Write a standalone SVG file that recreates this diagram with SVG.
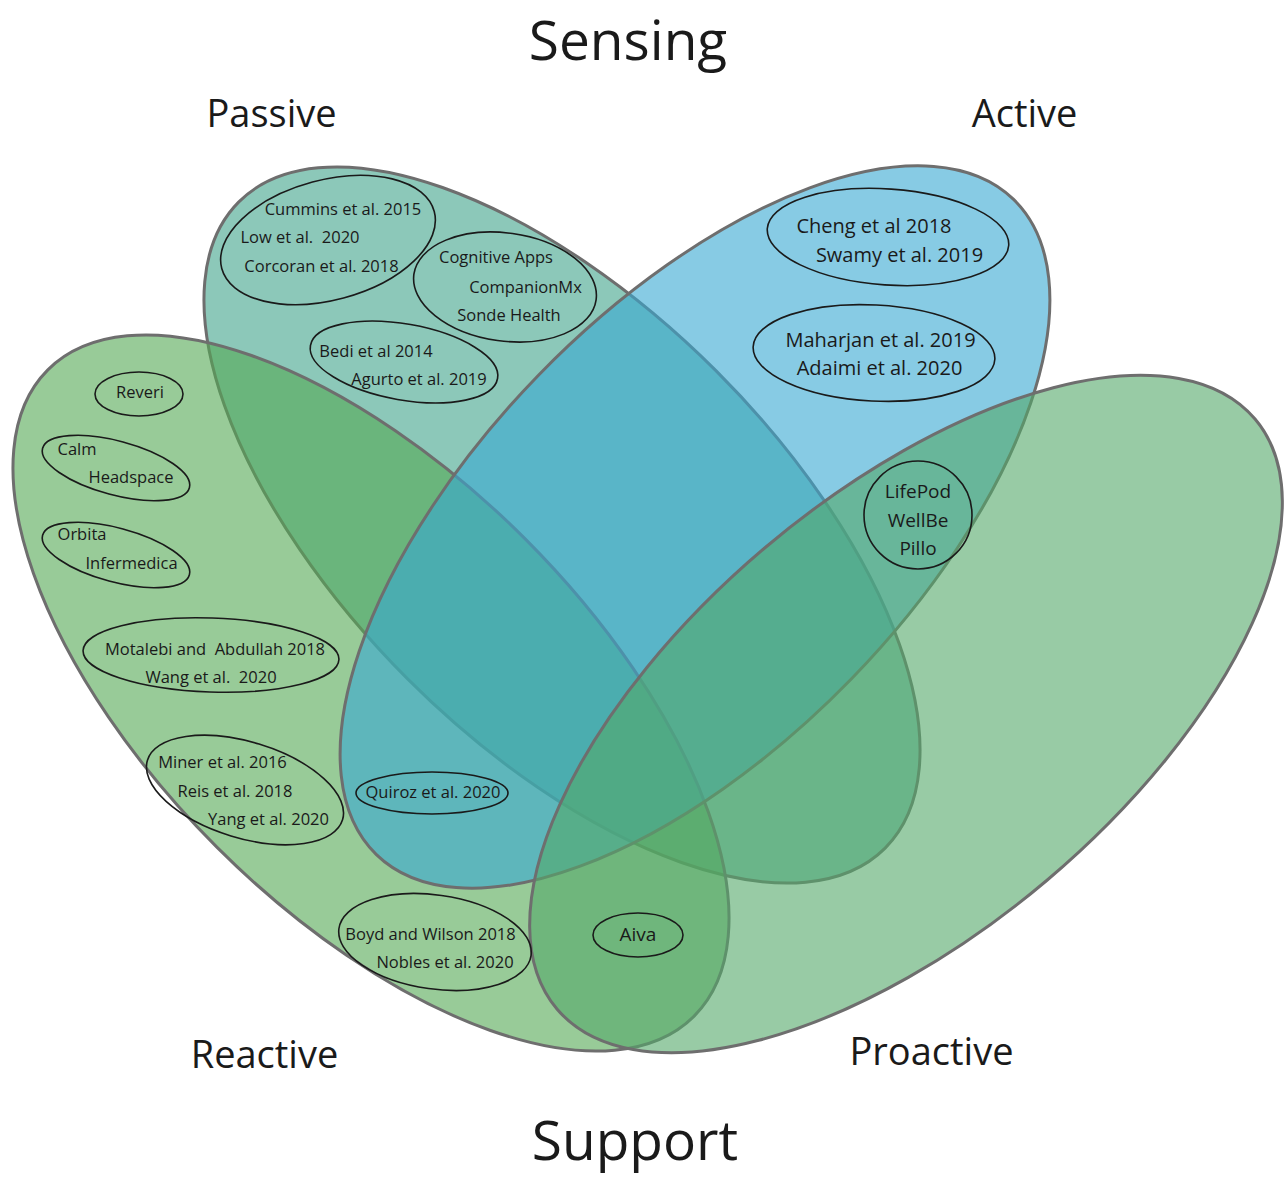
<svg xmlns="http://www.w3.org/2000/svg" width="1285" height="1179" viewBox="0 0 1285 1179">
  <style>
    .set { fill-opacity: 0.6; stroke: #6e6e6e; stroke-width: 3; }
    .grp { fill: none; stroke: #1a1a1a; stroke-width: 1.6; }
    .t { font-family: "Open Sans", "Noto Sans", "Liberation Sans", sans-serif; fill: #1a1a1a; text-anchor: middle; }
    .s { font-size: 16.5px; }
    .m { font-size: 20px; }
    .l { font-size: 19px; }
    .h { font-size: 38px; }
    .x { font-size: 55px; }
  </style>
  <rect width="1285" height="1179" fill="#ffffff"/>

  <!-- four overlapping sets -->
  <g id="sets">
    <ellipse id="set-passive" class="set" fill="#3fa38a" cx="562" cy="525" rx="457" ry="218" transform="rotate(45 562 525)"/>
    <ellipse id="set-reactive" class="set" fill="#53a853" cx="371" cy="693" rx="457" ry="218" transform="rotate(45 371 693)"/>
    <ellipse id="set-active" class="set" fill="#37a8d2" cx="695" cy="527" rx="457" ry="218" transform="rotate(-45.8 695 527)"/>
    <ellipse id="set-proactive" class="set" fill="#53a869" cx="906" cy="714" rx="457" ry="218" transform="rotate(-40.2 906 714)"/>
  </g>

  <!-- axis titles -->
  <g id="titles">
    <text class="t x" x="628" y="60">Sensing</text>
    <text class="t h" x="271.5" y="127">Passive</text>
    <text class="t h" x="1024.5" y="127">Active</text>
    <text class="t h" x="264.5" y="1068">Reactive</text>
    <text class="t h" x="931.5" y="1065">Proactive</text>
    <text class="t x" x="635" y="1160">Support</text>
  </g>

  <!-- grouped entries -->
  <g id="node-cummins">
    <ellipse class="grp" cx="328" cy="240" rx="110" ry="60" transform="rotate(-15 328 240)"/>
    <text class="t s" x="343" y="215">Cummins et al. 2015</text>
    <text class="t s" x="300" y="243" xml:space="preserve">Low et al.  2020</text>
    <text class="t s" x="321.5" y="272">Corcoran et al. 2018</text>
  </g>
  <g id="node-cognitive">
    <ellipse class="grp" cx="505" cy="287" rx="92" ry="54" transform="rotate(8 505 287)"/>
    <text class="t s" x="496" y="263">Cognitive Apps</text>
    <text class="t s" x="525.5" y="293">CompanionMx</text>
    <text class="t s" x="509" y="321">Sonde Health</text>
  </g>
  <g id="node-bedi">
    <ellipse class="grp" cx="404" cy="362" rx="95" ry="38" transform="rotate(10 404 362)"/>
    <text class="t s" x="376" y="357">Bedi et al 2014</text>
    <text class="t s" x="419" y="385">Agurto et al. 2019</text>
  </g>
  <g id="node-cheng">
    <ellipse class="grp" cx="888" cy="237" rx="121" ry="48" transform="rotate(4 888 237)"/>
    <text class="t m" x="874" y="233">Cheng et al 2018</text>
    <text class="t m" x="899.5" y="262">Swamy et al. 2019</text>
  </g>
  <g id="node-maharjan">
    <ellipse class="grp" cx="874" cy="353" rx="121" ry="48" transform="rotate(3 874 353)"/>
    <text class="t m" x="880.5" y="347">Maharjan et al. 2019</text>
    <text class="t m" x="879.5" y="375">Adaimi et al. 2020</text>
  </g>
  <g id="node-lifepod">
    <circle class="grp" cx="918" cy="515" r="54"/>
    <text class="t l" x="918" y="498">LifePod</text>
    <text class="t l" x="918" y="527">WellBe</text>
    <text class="t l" x="918" y="555">Pillo</text>
  </g>
  <g id="node-reveri">
    <ellipse class="grp" cx="139" cy="394" rx="44" ry="22"/>
    <text class="t s" x="140" y="398">Reveri</text>
  </g>
  <g id="node-calm">
    <ellipse class="grp" cx="116" cy="468" rx="76" ry="27" transform="rotate(15 116 468)"/>
    <text class="t s" x="77" y="455">Calm</text>
    <text class="t s" x="131" y="483">Headspace</text>
  </g>
  <g id="node-orbita">
    <ellipse class="grp" cx="116" cy="555" rx="76" ry="27" transform="rotate(15 116 555)"/>
    <text class="t s" x="82" y="540">Orbita</text>
    <text class="t s" x="131.5" y="569">Infermedica</text>
  </g>
  <g id="node-motalebi">
    <ellipse class="grp" cx="211" cy="655" rx="128" ry="37" transform="rotate(2 211 655)"/>
    <text class="t s" x="215" y="655" xml:space="preserve">Motalebi and  Abdullah 2018</text>
    <text class="t s" x="211" y="683" xml:space="preserve">Wang et al.  2020</text>
  </g>
  <g id="node-miner">
    <ellipse class="grp" cx="245" cy="790" rx="102" ry="48" transform="rotate(17 245 790)"/>
    <text class="t s" x="222.5" y="768">Miner et al. 2016</text>
    <text class="t s" x="235" y="797">Reis et al. 2018</text>
    <text class="t s" x="268.5" y="825">Yang et al. 2020</text>
  </g>
  <g id="node-quiroz">
    <ellipse class="grp" cx="432" cy="793" rx="76" ry="21"/>
    <text class="t s" x="433" y="798">Quiroz et al. 2020</text>
  </g>
  <g id="node-boyd">
    <ellipse class="grp" cx="435" cy="942" rx="97" ry="47" transform="rotate(8 435 942)"/>
    <text class="t s" x="430.5" y="940">Boyd and Wilson 2018</text>
    <text class="t s" x="445" y="968">Nobles et al. 2020</text>
  </g>
  <g id="node-aiva">
    <ellipse class="grp" cx="638" cy="935" rx="45" ry="22"/>
    <text class="t l" x="638" y="941">Aiva</text>
  </g>

  <!-- no connectors in this diagram -->
  <g id="connectors"/>
</svg>
